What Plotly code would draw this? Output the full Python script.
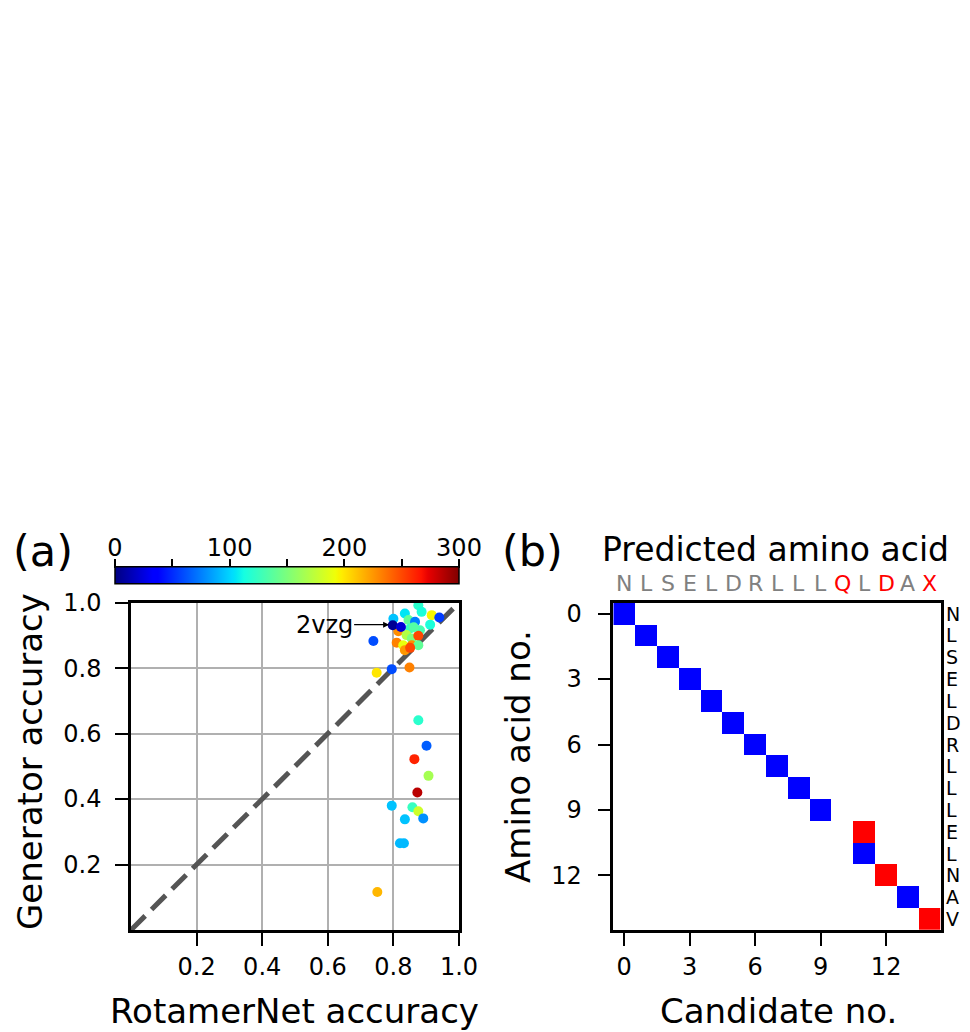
import plotly.graph_objects as go

# ---------------- Panel (a) data ----------------
rot_acc = [0.739, 0.876, 0.886, 0.917, 0.940, 0.835, 0.800, 0.846, 0.866, 0.912,
           0.851, 0.881, 0.815, 0.840, 0.856, 0.876, 0.810, 0.830, 0.856, 0.876,
           0.835, 0.851, 0.795, 0.849, 0.749, 0.876, 0.901, 0.864, 0.907, 0.873,
           0.795, 0.858, 0.876, 0.891, 0.835, 0.820, 0.832, 0.751, 0.862, 0.798, 0.823]
gen_acc = [0.883, 0.992, 0.972, 0.962, 0.955, 0.967, 0.951, 0.947, 0.942, 0.933,
           0.921, 0.916, 0.913, 0.901, 0.891, 0.899, 0.878, 0.870, 0.870, 0.870,
           0.855, 0.862, 0.797, 0.802, 0.786, 0.641, 0.563, 0.522, 0.471, 0.420,
           0.380, 0.375, 0.363, 0.341, 0.338, 0.265, 0.265, 0.116, 0.925, 0.931, 0.926]
color_val = [60, 120, 115, 195, 55, 105, 95, 140, 75, 115,
             125, 130, 228, 170, 150, 250, 232, 190, 228, 140,
             225, 250, 60, 232, 200, 120, 65, 262, 165, 285,
             95, 125, 180, 80, 95, 92, 92, 215, 135, 5, 22]
diag = [0, 1]
xticks_a = [0.2, 0.4, 0.6, 0.8, 1.0]
yticks_a = [0.2, 0.4, 0.6, 0.8, 1.0]
cbar_range = [0, 300]
cbar_ticks = [0, 50, 100, 150, 200, 250, 300]
cbar_text = ["0", "", "100", "", "200", "", "300"]

# ---------------- Panel (b) data ----------------
pred_letters = ["N", "L", "S", "E", "L", "D", "R", "L", "L", "L", "Q", "L", "D", "A", "X"]
pred_wrong = [0, 0, 0, 0, 0, 0, 0, 0, 0, 0, 1, 0, 1, 0, 1]
true_letters = ["N", "L", "S", "E", "L", "D", "R", "L", "L", "L", "E", "L", "N", "A", "V"]
chosen_candidate = [0, 1, 2, 3, 4, 5, 6, 7, 8, 9, 11, 11, 12, 13, 14]
correct = [1, 1, 1, 1, 1, 1, 1, 1, 1, 1, 0, 1, 0, 1, 0]
ticks_b = [0, 3, 6, 9, 12]

n = len(true_letters)
z = [[0] * n for _ in range(n)]
for r, (c, ok) in enumerate(zip(chosen_candidate, correct)):
    z[r][c] = 1 if ok else 2

# matplotlib "jet" colormap (segment definition)
_jet = {
    "r": [(0, 0), (0.35, 0), (0.66, 1), (0.89, 1), (1, 0.5)],
    "g": [(0, 0), (0.125, 0), (0.375, 1), (0.64, 1), (0.91, 0), (1, 0)],
    "b": [(0, 0.5), (0.11, 1), (0.34, 1), (0.65, 0), (1, 0)],
}

def _interp(pts, t):
    for (x0, y0), (x1, y1) in zip(pts[:-1], pts[1:]):
        if x0 <= t <= x1:
            return y0 + (y1 - y0) * (t - x0) / (x1 - x0)
    return pts[-1][1]

_stops = sorted({p[0] for ch in _jet.values() for p in ch})
jet_scale = [[t, "rgb(%d,%d,%d)" % tuple(round(255 * _interp(_jet[k], t)) for k in "rgb")]
             for t in _stops]

FONT = "DejaVu Sans"
W, H = 970, 1032
TICK_FS = 24
TITLE_FS = 33

def px(xp):
    return xp / W

def py(yp):
    return 1 - yp / H

fig = go.Figure()

fig.add_trace(go.Scatter(
    x=diag, y=diag, mode="lines",
    line=dict(color="#555555", width=5, dash="20px,9px"),
    xaxis="x", yaxis="y", showlegend=False, hoverinfo="skip"))

CB_L, CB_R, CB_T, CB_B = 115, 459, 567.7, 584.3
fig.add_trace(go.Scatter(
    x=rot_acc, y=gen_acc, mode="markers",
    marker=dict(size=10, color=color_val, colorscale=jet_scale, cmin=cbar_range[0], cmax=cbar_range[1],
                line=dict(width=0),
                colorbar=dict(orientation="h", x=px((CB_L + CB_R) / 2), xanchor="center",
                              y=py((CB_T + CB_B) / 2), yanchor="middle",
                              len=(CB_R - CB_L) / W, lenmode="fraction",
                              thickness=CB_B - CB_T, outlinewidth=1.5, outlinecolor="black",
                              xpad=0, ypad=0,
                              ticks="", showticklabels=False)),
    xaxis="x", yaxis="y", showlegend=False))

# invisible trace to carry the colorbar tick axis (ticks on top)
fig.add_trace(go.Scatter(x=[None], y=[None], xaxis="x3", yaxis="y3", showlegend=False,
                         hoverinfo="skip"))

fig.add_trace(go.Heatmap(
    z=z, x=list(range(n)), y=list(range(n)),
    colorscale=[[0, "white"], [0.333, "white"], [0.334, "#0000ff"], [0.666, "#0000ff"],
                [0.667, "#ff0000"], [1, "#ff0000"]],
    zmin=0, zmax=2, showscale=False, xaxis="x2", yaxis="y2", hoverinfo="skip"))

axis_common = dict(showline=True, linewidth=2.5, linecolor="black", mirror=True,
                   ticks="outside", ticklen=13, tickwidth=2, tickcolor="black",
                   tickfont=dict(family=FONT, size=TICK_FS, color="black"), zeroline=False,
                   automargin=False)

ydom = [py(930), py(602.7)]
fig.update_layout(
    width=W, height=H, margin=dict(l=0, r=0, t=0, b=0, pad=0),
    paper_bgcolor="white", plot_bgcolor="white",
    xaxis=dict(domain=[px(131), px(459)], range=[0, 1], tickvals=xticks_a,
               ticktext=["%.1f" % v for v in xticks_a], showgrid=True,
               gridcolor="#b0b0b0", gridwidth=2, anchor="y", ticklabelstandoff=0,
               **axis_common),
    yaxis=dict(domain=ydom, range=[0, 1], tickvals=yticks_a,
               ticktext=["%.1f" % v for v in yticks_a], showgrid=True,
               gridcolor="#b0b0b0", gridwidth=2, anchor="x", ticklabelstandoff=9,
               **axis_common),
    xaxis2=dict(domain=[px(613.3), px(940.7)], range=[-0.5, n - 0.5], tickvals=ticks_b,
                showgrid=False, anchor="y2", ticklabelstandoff=0, **axis_common),
    yaxis2=dict(domain=ydom, range=[n - 0.5, -0.5], tickvals=ticks_b,
                showgrid=False, anchor="x2", ticklabelstandoff=11, **axis_common),
    xaxis3=dict(domain=[px(CB_L), px(CB_R)], range=cbar_range, side="top", anchor="free",
                position=py(CB_T), showline=False, showgrid=False, zeroline=False,
                ticks="outside", ticklen=9, tickwidth=1.5, tickcolor="black",
                tickvals=cbar_ticks, ticktext=cbar_text, automargin=False, fixedrange=True,
                ticklabelstandoff=-7,
                tickfont=dict(family=FONT, size=TICK_FS, color="black")),
    yaxis3=dict(domain=[py(CB_B), py(CB_T)], visible=False, range=[0, 1], automargin=False,
                anchor="x3"),
)

ann = []
def add_text(text, x, y, size, color="black", angle=0, xref="paper", yref="paper"):
    ann.append(dict(text=text, x=x, y=y, xref=xref, yref=yref, showarrow=False,
                    xanchor="center", yanchor="middle", textangle=angle,
                    font=dict(family=FONT, size=size, color=color)))

add_text("Generator accuracy", px(30), py(762), 34, angle=-90)
add_text("RotamerNet accuracy", px(294.5), py(1011), 34)
add_text("Candidate no.", px(778.5), py(1011), 34)
add_text("Amino acid no.", px(518), py(757), 34, angle=-90)
add_text("(a)", px(43), py(551), 43)
add_text("(b)", px(532), py(551), 43)
add_text("Predicted amino acid", px(775.5), py(549), TITLE_FS)

for i, (lt, wr) in enumerate(zip(pred_letters, pred_wrong)):
    ann.append(dict(text=lt, x=i, y=py(583), xref="x2", yref="paper", showarrow=False,
                    xanchor="center", yanchor="middle",
                    font=dict(family=FONT, size=22, color="#ff0000" if wr else "#808080")))
for i, lt in enumerate(true_letters):
    ann.append(dict(text=lt, x=px(944), y=i, xref="paper", yref="y2", showarrow=False,
                    xanchor="left", yanchor="middle",
                    font=dict(family=FONT, size=19, color="black")))

ann.append(dict(text="2vzg", x=0.787, y=0.933, xref="x", yref="y", showarrow=True,
                ax=-65, ay=0, arrowhead=2, arrowsize=1, arrowwidth=1.2, arrowcolor="black",
                font=dict(family=FONT, size=24, color="black")))

fig.update_layout(annotations=ann)
fig.write_html("out.html", config={"displayModeBar": False},
               post_script="document.body.style.margin='0';document.body.style.overflow='hidden';")
